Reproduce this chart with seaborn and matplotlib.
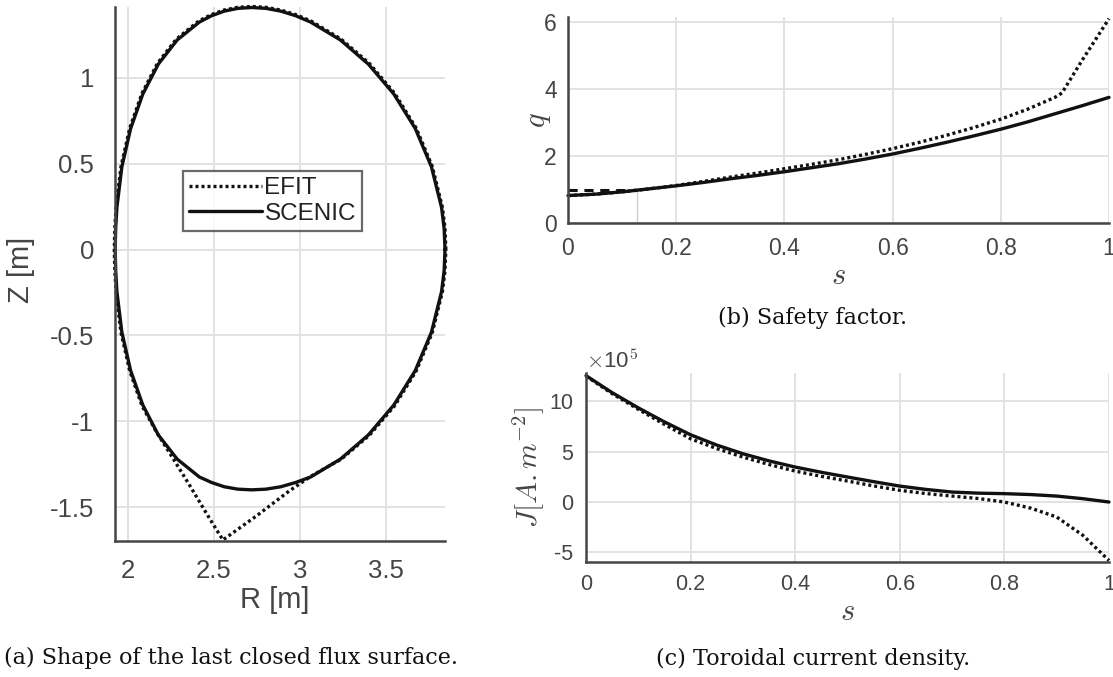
import numpy as np
import pandas as pd
import matplotlib
matplotlib.use("Agg")
import matplotlib.pyplot as plt
import seaborn as sns
from matplotlib.ticker import FixedLocator, FuncFormatter

# ---------------- data ----------------
# (a) last closed flux surface, R [m] / Z [m]
R_scenic = [3.845, 3.840, 3.825, 3.766, 3.672, 3.547, 3.399, 3.236, 3.063, 2.976, 2.889, 2.803,
            2.720, 2.639, 2.560, 2.486, 2.415, 2.286, 2.176, 2.086, 2.015, 1.964, 1.935, 1.928,
            1.925, 1.928, 1.935, 1.964, 2.015, 2.086, 2.176, 2.286, 2.415, 2.486, 2.560, 2.639,
            2.720, 2.803, 2.889, 2.976, 3.063, 3.236, 3.399, 3.547, 3.672, 3.766, 3.825, 3.840, 3.845]
Z_scenic = [0.000, 0.123, 0.245, 0.482, 0.705, 0.906, 1.080, 1.221, 1.325, 1.362, 1.389, 1.405,
            1.410, 1.405, 1.389, 1.362, 1.325, 1.221, 1.080, 0.906, 0.705, 0.482, 0.245, 0.123,
            0.000, -0.123, -0.245, -0.482, -0.705, -0.906, -1.080, -1.221, -1.325, -1.357, -1.382, -1.396,
            -1.400, -1.396, -1.382, -1.357, -1.325, -1.221, -1.080, -0.906, -0.705, -0.482, -0.245, -0.123, 0.000]

R_efit = [3.850, 3.845, 3.830, 3.771, 3.677, 3.552, 3.404, 3.240, 3.066, 2.978, 2.890, 2.803,
          2.720, 2.638, 2.557, 2.483, 2.411, 2.281, 2.171, 2.081, 2.010, 1.959, 1.930, 1.923,
          1.920, 1.923, 1.930, 1.959, 2.010, 2.081, 2.167, 2.265, 2.360, 2.455, 2.552,
          2.750, 2.940, 3.063, 3.150, 3.240, 3.404, 3.552, 3.677, 3.771, 3.830, 3.845, 3.850]
Z_efit = [0.000, 0.123, 0.246, 0.484, 0.708, 0.910, 1.085, 1.226, 1.331, 1.368, 1.395, 1.411,
          1.416, 1.411, 1.395, 1.368, 1.331, 1.226, 1.085, 0.910, 0.708, 0.484, 0.246, 0.123,
          0.000, -0.123, -0.246, -0.484, -0.708, -0.910, -1.066, -1.222, -1.376, -1.535, -1.692,
          -1.550, -1.405, -1.322, -1.272, -1.222, -1.083, -0.910, -0.708, -0.484, -0.246, -0.123, 0.000]

# (b) safety factor q(s)
s_q_scenic = [0.0, 0.05, 0.1, 0.15, 0.2, 0.25, 0.3, 0.35, 0.4, 0.45, 0.5, 0.55, 0.6, 0.65,
              0.7, 0.75, 0.8, 0.85, 0.9, 0.95, 1.0]
q_scenic = [0.82, 0.86, 0.93, 1.02, 1.11, 1.21, 1.32, 1.42, 1.53, 1.65, 1.77, 1.91, 2.06, 2.23,
            2.41, 2.60, 2.80, 3.02, 3.26, 3.50, 3.75]
s_q_efit = [0.0, 0.05, 0.1, 0.15, 0.2, 0.25, 0.3, 0.35, 0.4, 0.45, 0.5, 0.55, 0.6, 0.65,
            0.7, 0.75, 0.8, 0.85, 0.9, 0.913, 0.95, 1.0]
q_efit = [0.82, 0.86, 0.93, 1.02, 1.12, 1.24, 1.37, 1.49, 1.62, 1.75, 1.89, 2.05, 2.22, 2.41,
          2.62, 2.85, 3.10, 3.40, 3.75, 3.88, 4.85, 6.10]
s_q1 = 0.128   # radius of the q = 1 surface (dashed marker)
q_one = 1.0

# (c) toroidal current density J(s), in units of 1e5 A/m^2
s_j = [0.0, 0.05, 0.1, 0.15, 0.2, 0.25, 0.3, 0.35, 0.4, 0.45, 0.5, 0.55, 0.6, 0.65,
       0.7, 0.75, 0.8, 0.85, 0.9, 0.95, 1.0]
j_scenic = [12.54, 10.85, 9.34, 7.95, 6.67, 5.65, 4.79, 4.08, 3.47, 2.95, 2.48, 2.02, 1.58, 1.25,
            0.99, 0.88, 0.83, 0.74, 0.59, 0.33, 0.00]
j_efit = [12.50, 10.75, 9.20, 7.70, 6.27, 5.30, 4.46, 3.72, 3.07, 2.55, 2.08, 1.60, 1.16, 0.84,
          0.59, 0.35, 0.00, -0.60, -1.49, -3.30, -5.80]

R_ticks = [2, 2.5, 3, 3.5]
Z_ticks = [-1.5, -1, -0.5, 0, 0.5, 1]
s_ticks = [0, 0.2, 0.4, 0.6, 0.8, 1]
q_ticks = [0, 2, 4, 6]
j_ticks = [-5, 0, 5, 10]

# ---------------- style ----------------
sns.set_theme(style="whitegrid")
plt.rcParams["font.family"] = ["Liberation Sans", "DejaVu Sans"]
plt.rcParams["mathtext.fontset"] = "cm"
plt.rcParams["axes.unicode_minus"] = False

SPINE = "#454545"
TXT = "#454545"
GRID = "#e2e2e2"
LINE = "#111111"
W, H = 1113, 677

fig = plt.figure(figsize=(W / 100, H / 100), dpi=100)
fig.patch.set_facecolor("white")

def style_axes(ax, fs, xpad, ypad):
    ax.set_facecolor("white")
    for side in ("top", "right"):
        ax.spines[side].set_visible(False)
    for side in ("left", "bottom"):
        ax.spines[side].set_color(SPINE)
        ax.spines[side].set_linewidth(1.8)
    ax.grid(True, color=GRID, linewidth=1.4)
    ax.set_axisbelow(True)
    ax.tick_params(axis="both", direction="in", length=5, width=1.5, color=SPINE,
                   labelcolor=TXT, labelsize=fs)
    ax.tick_params(axis="x", pad=xpad)
    ax.tick_params(axis="y", pad=ypad)

fmt = FuncFormatter(lambda v, p: "%g" % v)

# ---------------- (a) ----------------
axA = fig.add_axes([115 / W, 1 - 541 / H, 330 / W, 534 / H])
sns.lineplot(x=R_efit, y=Z_efit, sort=False, estimator=None, ax=axA, color=LINE,
             linewidth=2.4, linestyle=(0, (0.9, 0.9)), label="EFIT")
sns.lineplot(x=R_scenic, y=Z_scenic, sort=False, estimator=None, ax=axA, color=LINE,
             linewidth=2.4, label="SCENIC")
axA.set_xlim(1.924, 3.845)
axA.set_ylim(-1.698, 1.413)
axA.xaxis.set_major_locator(FixedLocator(R_ticks))
axA.yaxis.set_major_locator(FixedLocator(Z_ticks))
axA.xaxis.set_major_formatter(fmt)
axA.yaxis.set_major_formatter(fmt)
style_axes(axA, 18.5, 13, 15)
axA.set_xlabel("R [m]", fontsize=21, color=TXT)
axA.set_ylabel("Z [m]", fontsize=21, color=TXT)
axA.xaxis.set_label_coords((275 - 115) / 330, (541 - 600) / 534)
axA.yaxis.set_label_coords((21 - 115) / 330, (541 - 270) / 534)
axA.xaxis.label.set_va("center")
axA.yaxis.label.set_va("center")
leg = axA.legend(loc="upper left", bbox_to_anchor=((183 - 115) / 330, (541 - 171) / 534),
                 fontsize=17.5, frameon=True, fancybox=False, edgecolor=SPINE,
                 handlelength=3.0, handletextpad=0.1, borderpad=0.25, labelspacing=0.15,
                 borderaxespad=0.0)
leg.get_frame().set_linewidth(1.6)
for t in leg.get_texts():
    t.set_color("#222222")
for ln in leg.get_lines():
    ln.set_linewidth(2.4)
for l in axA.lines:
    l.set_clip_on(False)
    l.set_solid_joinstyle("round")

# ---------------- (b) ----------------
axB = fig.add_axes([568 / W, 1 - 223 / H, 541 / W, 206 / H])
sns.lineplot(x=s_q_efit, y=q_efit, sort=False, estimator=None, ax=axB, color=LINE,
             linewidth=2.4, linestyle=(0, (0.9, 0.9)))
sns.lineplot(x=s_q_scenic, y=q_scenic, sort=False, estimator=None, ax=axB, color=LINE,
             linewidth=2.4)
sns.lineplot(x=[0, s_q1], y=[q_one, q_one], ax=axB, color=LINE, linewidth=2.2,
             linestyle=(0, (3, 2.2)))
sns.lineplot(x=[s_q1, s_q1], y=[0, q_one], ax=axB, color=LINE, linewidth=2.2,
             linestyle=(0, (3, 2.2)))
axB.set_xlim(0, 1)
axB.set_ylim(0, 6.15)
axB.xaxis.set_major_locator(FixedLocator(s_ticks))
axB.yaxis.set_major_locator(FixedLocator(q_ticks))
axB.xaxis.set_major_formatter(fmt)
axB.yaxis.set_major_formatter(fmt)
style_axes(axB, 16.5, 10, 8)
axB.set_xlabel("$s$", fontsize=22, color=TXT)
axB.set_ylabel("$q$", fontsize=22, color=TXT)
axB.xaxis.set_label_coords(0.5, (223 - 276) / 206)
axB.yaxis.set_label_coords((538 - 568) / 541, 0.5)
axB.xaxis.label.set_va("center")
axB.yaxis.label.set_va("center")
for l in axB.lines:
    l.set_clip_on(False)

# ---------------- (c) ----------------
axC = fig.add_axes([586 / W, 1 - 562 / H, 523 / W, 189 / H])
sns.lineplot(x=s_j, y=j_efit, sort=False, estimator=None, ax=axC, color=LINE,
             linewidth=2.4, linestyle=(0, (0.9, 0.9)))
sns.lineplot(x=s_j, y=j_scenic, sort=False, estimator=None, ax=axC, color=LINE,
             linewidth=2.4)
axC.set_xlim(0, 1)
axC.set_ylim(-5.95, 12.8)
axC.xaxis.set_major_locator(FixedLocator(s_ticks))
axC.yaxis.set_major_locator(FixedLocator(j_ticks))
axC.xaxis.set_major_formatter(fmt)
axC.yaxis.set_major_formatter(fmt)
style_axes(axC, 15.5, 9, 9)
axC.set_xlabel("$s$", fontsize=22, color=TXT)
axC.set_ylabel(r"$J[A{.}m^{-2}]$", fontsize=21, color=TXT)
axC.xaxis.set_label_coords(0.5, (562 - 612) / 189)
axC.yaxis.set_label_coords((528 - 586) / 523, 0.5)
axC.xaxis.label.set_va("center")
axC.yaxis.label.set_va("center")
axC.text(0.0, 1.025, r"$\times$10$^{5}$", transform=axC.transAxes, ha="left", va="baseline",
         fontsize=16, color=TXT)
for l in axC.lines:
    l.set_clip_on(False)

# ---------------- captions ----------------
cap = dict(fontsize=16, family="DejaVu Serif", color="#111111", ha="center", va="center")
fig.text(231 / W, 1 - 658 / H, "(a) Shape of the last closed flux surface.", **cap)
fig.text(813 / W, 1 - 318 / H, "(b) Safety factor.", **cap)
fig.text(813 / W, 1 - 659 / H, "(c) Toroidal current density.", **cap)

fig.savefig("out.png", dpi=100, facecolor="white")
